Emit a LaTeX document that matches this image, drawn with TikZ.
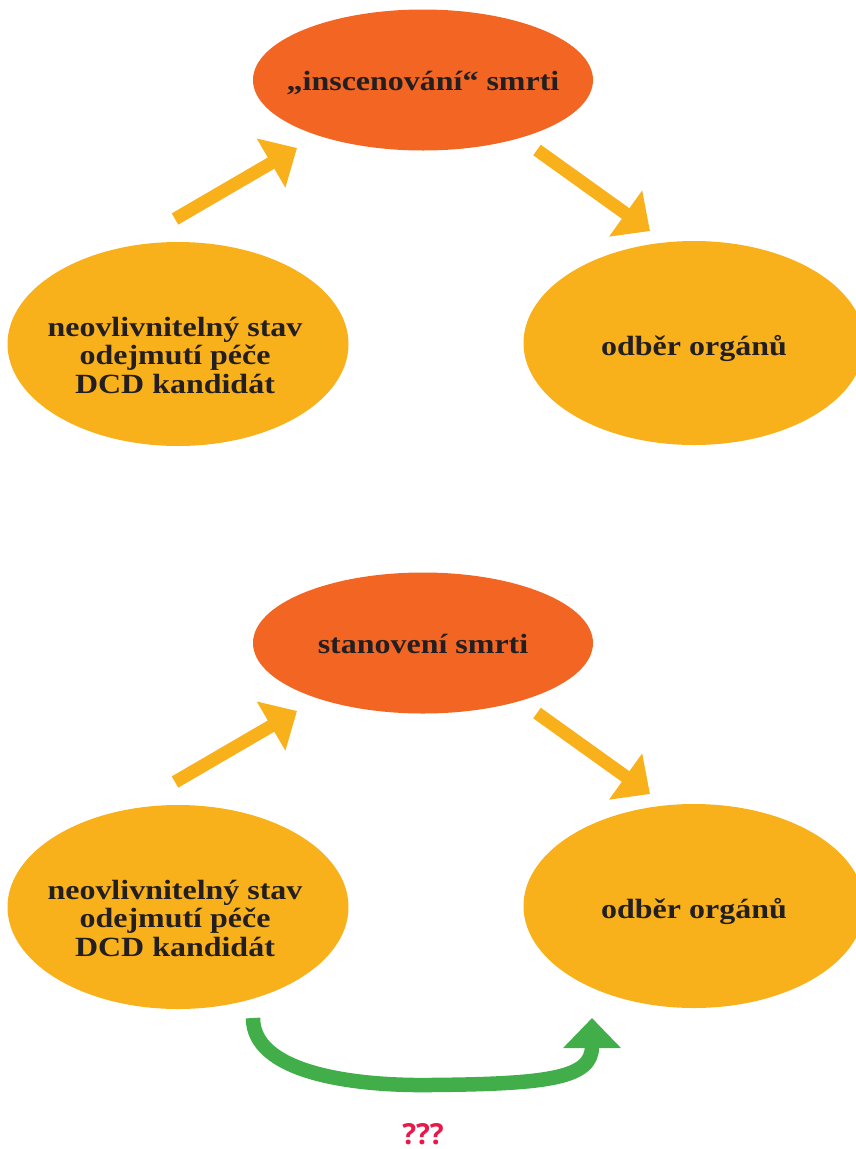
\documentclass[tikz,border=0pt]{standalone}
\usepackage{fontspec}
\setmainfont[FakeStretch=1.15]{Liberation Serif}
\newfontfamily\qfont{Open Sans}
\usetikzlibrary{arrows.meta,shapes.geometric}
\definecolor{orng}{HTML}{F26522}
\definecolor{yel}{HTML}{F9B11B}
\definecolor{grn}{HTML}{41AE4A}
\definecolor{txt}{HTML}{231F20}
\definecolor{qred}{HTML}{E8194A}
\tikzset{
  topell/.style={ellipse, fill=orng, minimum width=340pt, minimum height=141pt, inner sep=0pt},
  sideell/.style={ellipse, fill=yel, minimum width=341pt, minimum height=204pt, inner sep=0pt},
  lbl/.style={text=txt, font=\bfseries\fontsize{27.8}{28.5}\selectfont, align=center, inner sep=0pt},
  yarrow/.style={draw=yel, line width=13pt, -{Triangle[width=55pt,length=30pt]}},
  garrow/.style={draw=grn, line width=14.5pt, -{Triangle[width=56pt,length=30pt]}},
}
\begin{document}
\begin{tikzpicture}[x=1pt,y=-1pt]
\useasboundingbox (0,0) rectangle (856,1149);
\begin{scope}
\clip (0,0) rectangle (856,1149);
% top diagram
\node[topell] (t1) at (423,80) {};
\node[lbl, anchor=base] (t1t) at ([yshift=-10pt]t1.center) {„inscenování“ smrti};
\node[sideell] (l1) at (178,344) {};
\node[lbl] (l1t) at ([xshift=-3pt,yshift=-11pt]l1.center) {neovlivnitelný stav\\odejmutí péče\\DCD kandidát};
\node[sideell] (r1) at (694,343) {};
\node[lbl, anchor=base] (r1t) at ([yshift=-12pt]r1.center) {odběr orgánů};
\coordinate (a1s) at (175,219);
\coordinate (a1e) at (297,148);
\coordinate (a2s) at (537,150);
\coordinate (a2e) at (650,231);
\draw[yarrow] (a1s) -- (a1e);
\draw[yarrow] (a2s) -- (a2e);
% bottom diagram
\node[topell] (t2) at (423,643) {};
\node[lbl, anchor=base] (t2t) at ([yshift=-10pt]t2.center) {stanovení smrti};
\node[sideell] (l2) at (178,907) {};
\node[lbl] (l2t) at ([xshift=-3pt,yshift=-11pt]l2.center) {neovlivnitelný stav\\odejmutí péče\\DCD kandidát};
\node[sideell] (r2) at (694,906) {};
\node[lbl, anchor=base] (r2t) at ([yshift=-12pt]r2.center) {odběr orgánů};
\coordinate (b1s) at (175,782);
\coordinate (b1e) at (297,711);
\coordinate (b2s) at (537,713);
\coordinate (b2e) at (650,794);
\draw[yarrow] (b1s) -- (b1e);
\draw[yarrow] (b2s) -- (b2e);
\coordinate (gs) at (253,1018);
\coordinate (gm) at (430,1085);
\coordinate (ge) at (592,1018);
\draw[garrow] (gs) .. controls (253,1072) and (350,1086) .. (gm) .. controls (550,1084) and (592,1078) .. (ge);
\node[text=qred, font=\qfont\bfseries\fontsize{29}{29}\selectfont, anchor=base, inner sep=0pt] (q) at (423,1144) {???};
\end{scope}
\end{tikzpicture}
\end{document}
